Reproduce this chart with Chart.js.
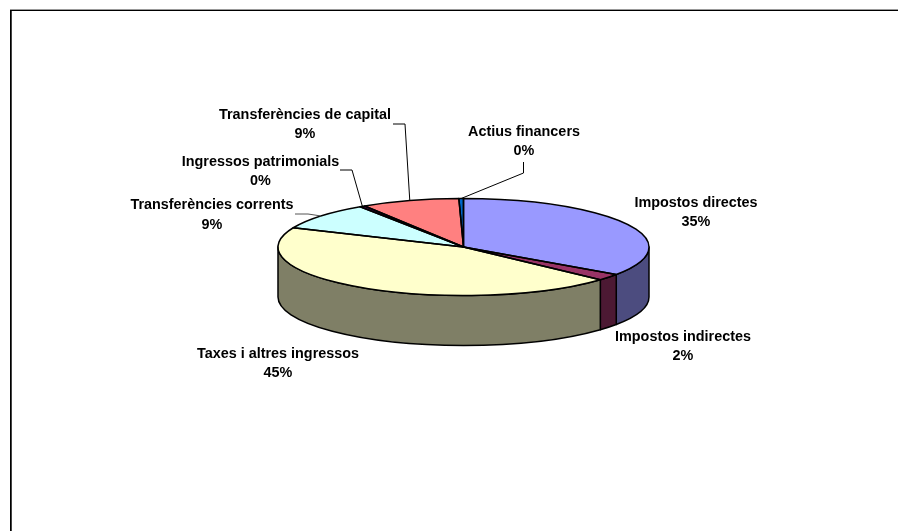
<!DOCTYPE html>
<html>
<head>
<meta charset="utf-8">
<title>Ingressos</title>
<style>
    html, body { margin: 0; padding: 0; background: #fff; }
    canvas { display: block; }
</style>
<script src="https://cdn.jsdelivr.net/npm/chart.js@4"></script>
</head>
<body>
<canvas id="pieChart" width="898" height="531"></canvas>
<script>
// Data
const categories = ['Impostos directes', 'Impostos indirectes', 'Taxes i altres ingressos',
    'Transferències corrents', 'Ingressos patrimonials', 'Transferències de capital', 'Actius financers'];
const values = [34.6, 2.2, 44.7, 9.1, 0.45, 8.55, 0.4];
const topColors = ['#9999FF', '#993366', '#FFFFCC', '#CCFFFF', '#660066', '#FF8080', '#0066CC'];
const sideColors = ['#4C4C7F', '#4C1933', '#7F7F66', '#667F7F', '#330033', '#7F4040', '#003366'];

// Label placement: text centre, first line y, and leader elbow points (if any)
const labelLayout = [
    { x: 696, y: 203 },
    { x: 683, y: 337 },
    { x: 278, y: 354 },
    { x: 212, y: 205.5, leader: [[295, 214], [308, 214]], leaderColor: '#555' },
    { x: 260.5, y: 162, leader: [[340, 170], [352, 170]] },
    { x: 305, y: 115, leader: [[393, 124], [405, 124]] },
    { x: 524, y: 132, leader: [[523.5, 162], [523.5, 173]] }
];

const TILT = 48.5 / 185.5;
const DEPTH = 50;
const LINE_HEIGHT = 19.5;
const total = values.reduce((a, b) => a + b, 0);

function tiltContext(ctx, arc) {
    ctx.translate(arc.x, arc.y);
    ctx.scale(1, TILT);
    ctx.translate(-arc.x, -arc.y);
}

const pie3d = {
    id: 'pie3d',
    beforeDraw(chart) {
        // frame: only the top and left edges are visible
        const ctx = chart.ctx;
        ctx.save();
        ctx.fillStyle = '#fff';
        ctx.fillRect(0, 0, 898, 531);
        ctx.fillStyle = '#999';
        ctx.fillRect(10, 9, 888, 1);
        ctx.fillStyle = '#000';
        ctx.fillRect(10, 10, 888, 1);
        ctx.fillRect(10, 10, 1, 521);
        ctx.fillStyle = '#444';
        ctx.fillRect(11, 11, 1, 520);
        ctx.restore();
    },
    beforeDatasetsDraw(chart) {
        const ctx = chart.ctx;
        const arcs = chart.getDatasetMeta(0).data;
        // side wall, only the part of each slice facing the viewer
        arcs.forEach((arc, i) => {
            const a0 = Math.max(arc.startAngle, 0);
            const a1 = Math.min(arc.endAngle, Math.PI);
            if (a1 <= a0) return;
            const r = arc.outerRadius;
            ctx.beginPath();
            ctx.ellipse(arc.x, arc.y, r, r * TILT, 0, a0, a1);
            ctx.ellipse(arc.x, arc.y + DEPTH, r, r * TILT, 0, a1, a0, true);
            ctx.closePath();
            ctx.fillStyle = sideColors[i];
            ctx.fill();
            ctx.lineWidth = 1.5;
            ctx.strokeStyle = '#000';
            ctx.lineJoin = 'round';
            ctx.stroke();
        });
        ctx.save();
        tiltContext(ctx, arcs[0]);
    },
    afterDatasetsDraw(chart) {
        const ctx = chart.ctx;
        ctx.restore();
        const arcs = chart.getDatasetMeta(0).data;

        // slice outlines have to be stroked outside the tilted transform
        arcs.forEach(arc => {
            const r = arc.outerRadius;
            ctx.beginPath();
            ctx.moveTo(arc.x, arc.y);
            ctx.ellipse(arc.x, arc.y, r, r * TILT, 0, arc.startAngle, arc.endAngle);
            ctx.closePath();
            ctx.lineWidth = 1.5;
            ctx.strokeStyle = '#000';
            ctx.lineJoin = 'round';
            ctx.stroke();
        });

        // leader lines end on the rim at the middle of the slice
        arcs.forEach((arc, i) => {
            const layout = labelLayout[i];
            if (!layout.leader) return;
            const mid = (arc.startAngle + arc.endAngle) / 2;
            ctx.beginPath();
            layout.leader.forEach(([x, y], n) => n ? ctx.lineTo(x, y) : ctx.moveTo(x, y));
            ctx.lineTo(arc.x + arc.outerRadius * Math.cos(mid),
                arc.y + arc.outerRadius * TILT * Math.sin(mid));
            ctx.lineWidth = 1;
            ctx.strokeStyle = layout.leaderColor || '#000';
            ctx.stroke();
        });

        // labels
        ctx.fillStyle = '#000';
        ctx.font = 'bold 14.4px "Liberation Sans", Arial, sans-serif';
        ctx.textAlign = 'center';
        ctx.textBaseline = 'middle';
        categories.forEach((name, i) => {
            const layout = labelLayout[i];
            ctx.fillText(name, layout.x, layout.y);
            ctx.fillText(Math.round(values[i] / total * 100) + '%', layout.x, layout.y + LINE_HEIGHT);
        });
    }
};

new Chart(document.getElementById('pieChart').getContext('2d'), {
    type: 'pie',
    data: {
        labels: categories,
        datasets: [{
            data: values,
            backgroundColor: topColors,
            borderWidth: 0
        }]
    },
    options: {
        responsive: false,
        animation: false,
        layout: {
            padding: { left: 278, right: 249, top: 61.5, bottom: 98.5 }
        },
        plugins: {
            legend: { display: false },
            tooltip: { enabled: false }
        }
    },
    plugins: [pie3d]
});
</script>
</body>
</html>
